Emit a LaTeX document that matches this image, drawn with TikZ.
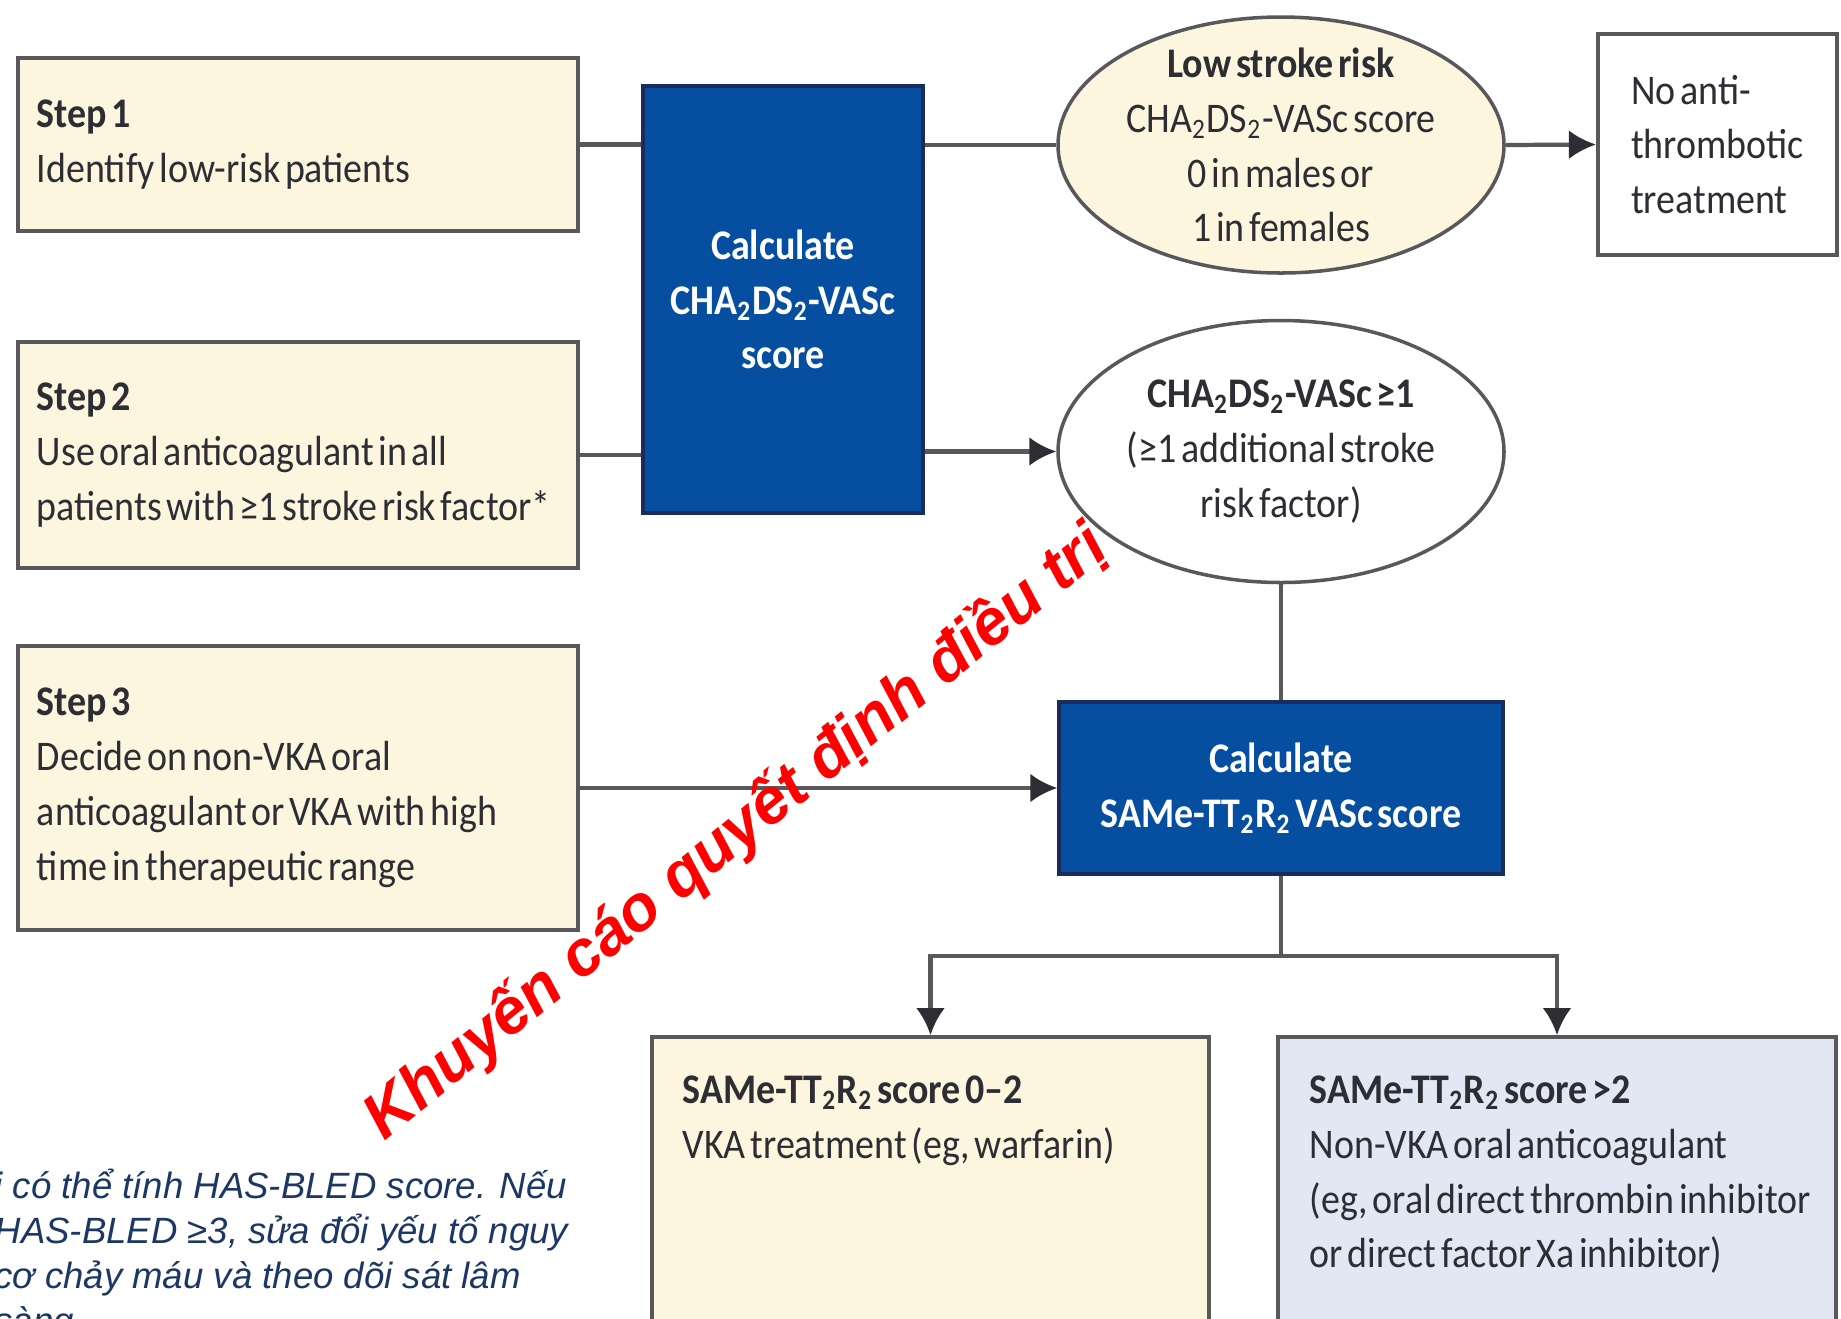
\documentclass[tikz,border=0pt]{standalone}
\usepackage{fontspec}
\setmainfont[FakeStretch=0.9, WordSpace=0.55]{Carlito}
\newfontfamily\notefont{Liberation Sans}
\usetikzlibrary{shapes.geometric, arrows.meta, positioning}
\definecolor{cream}{RGB}{253,246,223}
\definecolor{paleblue}{RGB}{226,232,243}
\definecolor{lancetblue}{RGB}{6,79,160}
\definecolor{navyedge}{RGB}{25,45,90}
\definecolor{linegray}{RGB}{88,88,92}
\definecolor{inkgray}{RGB}{45,45,52}
\definecolor{notenavy}{RGB}{28,55,100}

\tikzset{
  boxfont/.style={font=\fontsize{12}{15.6}\selectfont},
  stepbox/.style={draw=linegray, line width=1.2pt, fill=cream,
    text=inkgray, align=flush left, boxfont,
    minimum width=5.6cm, text width=5.22cm, inner xsep=0.19cm},
  calcbox/.style={draw=navyedge, line width=1pt, fill=lancetblue,
    text=white, align=center, boxfont},
  riskoval/.style={ellipse, draw=linegray, line width=1pt, inner sep=0pt,
    minimum width=4.46cm, minimum height=2.56cm},
  ovaltext/.style={text=inkgray, align=center, boxfont, inner sep=0pt},
  conn/.style={draw=linegray, line width=1.2pt},
  arrow/.style={conn, -{Latex[length=2.7mm, width=2.9mm, color=inkgray]}}
}

\begin{document}
\begin{tikzpicture}
    \useasboundingbox (0,0) rectangle (18.41,-13.18);
    \clip (0,0) rectangle (18.41,-13.18);
    \fill[white] (0,0) rectangle (18.41,-13.18);

    % Add the steps
    \node[stepbox,
          minimum height=1.73cm
          ] (step1) at (2.98,-1.445) {\textbf{Step 1}\\Identify low-risk patients};
    \node[stepbox,
          minimum height=2.26cm
          ] (step2) at (2.98,-4.55) {\textbf{Step 2}\\Use oral anticoagulant in all\\patients with ≥1 stroke risk factor*};
    \node[stepbox,
          minimum height=2.84cm
          ] (step3) at (2.98,-7.88) {\textbf{Step 3}\\Decide on non-VKA oral\\anticoagulant or VKA with high\\time in therapeutic range};

    % Add the scores
    \node[calcbox,
          minimum width=2.8cm,
          minimum height=4.27cm
          ] (calc1) at (7.83,-2.995) {\textbf{Calculate}\\\textbf{CHA\textsubscript{2}DS\textsubscript{2}-VASc}\\\textbf{score}};
    \node[riskoval,
          fill=cream
          ] (low) at (12.81,-1.45) {};
    \node[ovaltext] (lowtxt) at (low.center) {\textbf{Low stroke risk}\\CHA\textsubscript{2}DS\textsubscript{2}-VASc score\\0 in males or\\1 in females};
    \node[draw=linegray, line width=1.2pt,
          text=inkgray, align=left, boxfont,
          minimum width=2.39cm, minimum height=2.21cm
          ] (noanti) at (17.175,-1.445) {No anti-\\thrombotic\\treatment};
    \node[riskoval,
          fill=white,
          minimum height=2.62cm
          ] (high) at (12.81,-4.515) {};
    \node[ovaltext] (hightxt) at (high.center) {\textbf{CHA\textsubscript{2}DS\textsubscript{2}-VASc ≥1}\\(≥1 additional stroke\\risk factor)};
    \node[calcbox,
          minimum width=4.44cm,
          minimum height=1.72cm
          ] (calc2) at (12.81,-7.88) {\textbf{Calculate}\\\textbf{SAMe-TT\textsubscript{2}R\textsubscript{2} VASc score}};

    % Add the treatments
    \node[draw=linegray, line width=1.2pt, fill=cream,
          minimum width=5.57cm, minimum height=3.3cm,
          anchor=north
          ] (vka) at (9.305,-10.35) {};
    \node[draw=linegray, line width=1.2pt, fill=paleblue,
          minimum width=5.58cm, minimum height=3.3cm,
          anchor=north
          ] (noac) at (15.57,-10.35) {};
    \node[anchor=north west, inner sep=0pt, align=left, text=inkgray, boxfont
          ] (vkatxt) at ([shift={(0.32,-0.4)}]vka.north west) {\textbf{SAMe-TT\textsubscript{2}R\textsubscript{2} score 0–2}\\VKA treatment (eg, warfarin)};
    \node[anchor=north west, inner sep=0pt, align=left, text=inkgray, boxfont
          ] (noactxt) at ([shift={(0.33,-0.4)}]noac.north west) {\textbf{SAMe-TT\textsubscript{2}R\textsubscript{2} score >2}\\Non-VKA oral anticoagulant\\(eg, oral direct thrombin inhibitor\\or direct factor Xa inhibitor)};

    % Connectors
    \draw[conn] (step1.east) -- (step1.east -| calc1.west);
    \draw[conn] (calc1.east |- low.west) -- (low.west);
    \draw[arrow] (low.east) -- (noanti.west);
    \draw[conn] (step2.east) -- (step2.east -| calc1.west);
    \draw[arrow] (calc1.east |- high.west) -- (high.west);
    \draw[conn] (high.south) -- (calc2.north);
    \draw[arrow] (step3.east) -- (calc2.west);
    \coordinate (fork) at ([yshift=-0.8cm]calc2.south);
    \draw[conn] (calc2.south) -- (fork);
    \draw[arrow] (fork) -| (vka.north);
    \draw[arrow] (fork) -| (noac.north);

    % Note and stamp
    \node[anchor=north west, inner sep=0pt, align=left, text=notenavy,
          font=\notefont\itshape\fontsize{10.4}{12.8}\selectfont
          ] (note) at (-0.06,-11.68) {i có thể tính HAS-BLED score. Nếu\\HAS-BLED ≥3, sửa đổi yếu tố nguy\\cơ chảy máu và theo dõi sát lâm\\sàng};
    \node[rotate=39, anchor=base west, inner sep=0pt, text=red,
          font=\notefont\bfseries\itshape\fontsize{18.2}{21}\selectfont
          ] (stamp) at (3.84,-11.42) {Khuyến cáo quyết định điều trị};
\end{tikzpicture}
\end{document}
